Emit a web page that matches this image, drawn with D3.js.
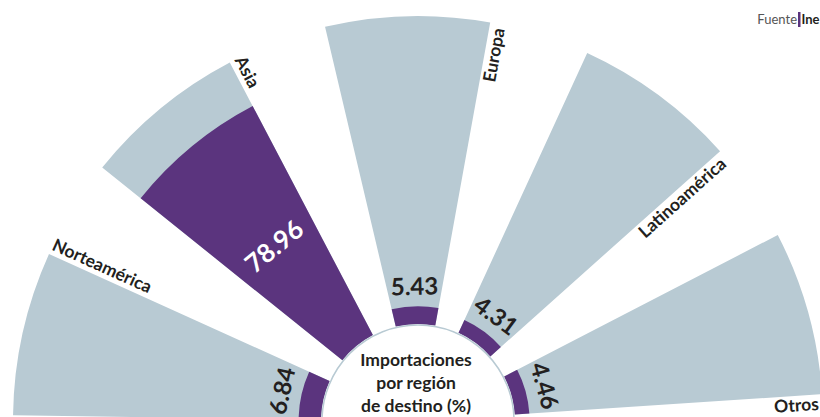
<!DOCTYPE html>
<html>
<head>
<meta charset="utf-8">
<script src="https://cdn.jsdelivr.net/npm/d3@7"></script>
<style>
  body { margin: 0; background: #fff; }
  svg { display: block; font-family: Lato, 'Open Sans', sans-serif; }
</style>
</head>
<body>
<svg id="chart" width="820" height="417"></svg>
<script>
const categories = ['Norteamérica', 'Asia', 'Europa', 'Latinoamérica', 'Otros']
const values = [6.84, 78.96, 5.43, 4.31, 4.46]
const valueLabels = ['6.84', '78.96', '5.43', '4.31', '4.46']
const titleLines = ['Importaciones', 'por región', 'de destino (%)']
const maxValue = 94 // where the grey track ends

const width = 820
const height = 417
const cx = 418
const cy = 421
const innerR = 97
const outerR = 405

const purple = '#5b347e'
const grey = '#b8cad3'
const ink = '#231f20'

const svg = d3.select('#chart')
const g = svg.append('g').attr('transform', `translate(${cx},${cy})`)

// angles in degrees, measured clockwise from the left horizontal
const angle = d3.scaleBand().domain(categories).range([0.8, 176.2]).paddingInner(0.38)
const radius = d3.scaleLinear().domain([0, maxValue]).range([innerR, outerR])

const rad = (deg) => ((deg - 90) * Math.PI) / 180
const polar = (deg, r) => [r * Math.sin(rad(deg)), -r * Math.cos(rad(deg))]

const arc = d3.arc()
const rows = categories.map((name, i) => ({
  name,
  value: values[i],
  label: valueLabels[i],
  a0: angle(name),
  a1: angle(name) + angle.bandwidth(),
}))

// grey tracks
g.selectAll('path.track')
  .data(rows)
  .join('path')
  .attr('class', 'track')
  .attr('fill', grey)
  .attr('d', (d) => arc({ innerRadius: innerR, outerRadius: outerR, startAngle: rad(d.a0), endAngle: rad(d.a1) }))

// purple values
g.selectAll('path.bar')
  .data(rows)
  .join('path')
  .attr('class', 'bar')
  .attr('fill', purple)
  .attr('d', (d) => arc({ innerRadius: innerR, outerRadius: radius(d.value), startAngle: rad(d.a0), endAngle: rad(d.a1) }))

// centre disc
g.append('circle')
  .attr('r', innerR - 1)
  .attr('fill', '#fff')
  .attr('stroke', '#b8cad3')
  .attr('stroke-width', 1.5)

g.selectAll('text.title')
  .data(titleLines)
  .join('text')
  .attr('class', 'title')
  .attr('text-anchor', 'middle')
  .attr('x', -2)
  .attr('y', (d, i) => -55 + i * 23)
  .attr('font-size', 17.5)
  .attr('font-weight', 700)
  .attr('fill', ink)
  .text((d) => d)

// value labels, tangential
g.selectAll('text.value')
  .data(rows)
  .join('text')
  .attr('class', 'value')
  .attr('transform', (d) => {
    const mid = (d.a0 + d.a1) / 2
    const big = radius(d.value) > 200
    const r = big ? (innerR + radius(d.value)) / 2 : radius(d.value) + 20
    const [x, y] = polar(mid, r)
    return `translate(${x},${y}) rotate(${mid - 90})`
  })
  .attr('text-anchor', 'middle')
  .attr('dy', '0.36em')
  .attr('font-size', (d) => (radius(d.value) > 200 ? 26 : 24))
  .attr('font-weight', 700)
  .attr('fill', (d) => (radius(d.value) > 200 ? '#fff' : ink))
  .text((d) => d.label)

// category labels along the closing edge of each sector
g.selectAll('text.cat')
  .data(rows)
  .join('text')
  .attr('class', 'cat')
  .attr('transform', (d) => {
    const left = d.a1 < 90
    const [x, y] = polar(d.a1, left ? outerR : outerR - 4)
    return `translate(${x},${y}) rotate(${left ? d.a1 : d.a1 - 180})`
  })
  .attr('text-anchor', (d) => (d.a1 < 90 ? 'start' : 'end'))
  .attr('dy', (d) => (d.a1 < 90 ? -5 : 15.5))
  .attr('font-size', 17.5)
  .attr('font-weight', 700)
  .attr('fill', ink)
  .text((d) => d.name)

// source
svg.append('text').attr('x', 797).attr('y', 24).attr('text-anchor', 'end')
  .attr('font-size', 13).attr('fill', '#555').text('Fuente')
svg.append('rect').attr('x', 798).attr('y', 12).attr('width', 2.5).attr('height', 15).attr('fill', purple)
svg.append('text').attr('x', 801.5).attr('y', 24).attr('font-size', 13).attr('font-weight', 700).attr('fill', ink).text('Ine')
</script>
</body>
</html>
